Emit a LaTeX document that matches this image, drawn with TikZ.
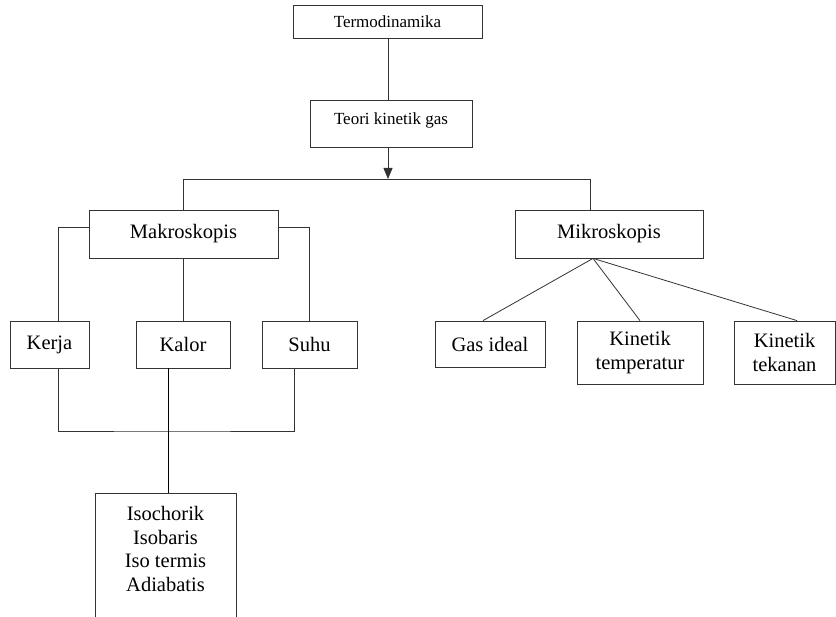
\documentclass[tikz,border=0pt]{standalone}
\usepackage{fontspec}
\setmainfont{Liberation Serif}
\usetikzlibrary{arrows.meta}

\begin{document}
\begin{tikzpicture}[x=1pt,y=-1pt,
  garis/.style={draw=black!80,line width=0.8pt},
  kotak/.style={garis,rectangle,inner sep=0pt,align=center,font=\fontsize{20.5}{23.5}\selectfont},
  kotakkecil/.style={kotak,font=\fontsize{17}{20}\selectfont}]
  \useasboundingbox (0,0) rectangle (836,617);
  % atas
  \node[kotakkecil,minimum width=189pt,minimum height=33pt] (termo) at (387.5,21.5) {Termodinamika};
  \node[kotakkecil,minimum width=162pt,text height=25pt,text depth=22pt] (teori) at (391,123.5) {Teori kinetik gas};
  \coordinate (cabang) at (388,179);
  \coordinate (kiri) at (183.5,179);
  \coordinate (kanan) at (590,179);
  \node[kotak,minimum width=189pt,minimum height=48pt] (makro) at (183.5,234) {Makroskopis};
  \node[kotak,minimum width=188pt,minimum height=48pt] (mikro) at (609,234) {Mikroskopis};
  \draw[garis] (termo.south -| cabang) -- (teori.north -| cabang);
  \draw[garis,-{Triangle[width=9pt,length=11pt]}] (teori.south -| cabang) -- (cabang);
  \draw[garis] (makro.north) -- (kiri) -- (kanan) -- (kanan |- mikro.north);
  % makroskopis
  \node[kotak,minimum width=79pt,minimum height=47pt] (kerja) at (49.5,344.5) {Kerja};
  \node[kotak,minimum width=94pt,minimum height=47pt] (kalor) at (183,344.5) {Kalor};
  \node[kotak,minimum width=95pt,minimum height=47pt] (suhu) at (309.5,344.5) {Suhu};
  \draw[garis] ([yshift=7pt]makro.west) -| ([xshift=8.5pt]kerja.north);
  \draw[garis] ([yshift=7pt]makro.east) -| (suhu.north);
  \draw[garis] (makro.south) -- (makro.south |- kalor.north);
  \coordinate (gabung) at (168,431);
  \draw[garis] ([xshift=8.5pt]kerja.south) |- (gabung) -| ([xshift=-15.5pt]suhu.south);
  \node[kotak,minimum width=141pt,minimum height=160pt,anchor=north] (proses) at (165.5,493) {};
  \node[kotak,draw=none,anchor=north] (prosesteks) at ([yshift=-13pt]proses.north) {Isochorik\\Isobaris\\Iso termis\\Adiabatis};
  \draw[garis,draw=black] (gabung |- kalor.south) -- (gabung |- proses.north);
  % mikroskopis
  \node[kotak,minimum width=110pt,minimum height=46pt] (gasideal) at (490,344) {Gas ideal};
  \node[kotak,minimum width=126pt,minimum height=63pt] (kintemp) at (640,352.5) {Kinetik\\temperatur};
  \node[kotak,minimum width=101pt,minimum height=63pt] (kintek) at (784.5,352.5) {Kinetik\\tekanan};
  \coordinate (pusat) at ([xshift=-16pt]mikro.south);
  \draw[garis] (pusat) -- ([xshift=-7pt]gasideal.north);
  \draw[garis] (pusat) -- (kintemp.north);
  \draw[garis] (pusat) -- ([xshift=12.5pt]kintek.north);
\end{tikzpicture}
\end{document}
